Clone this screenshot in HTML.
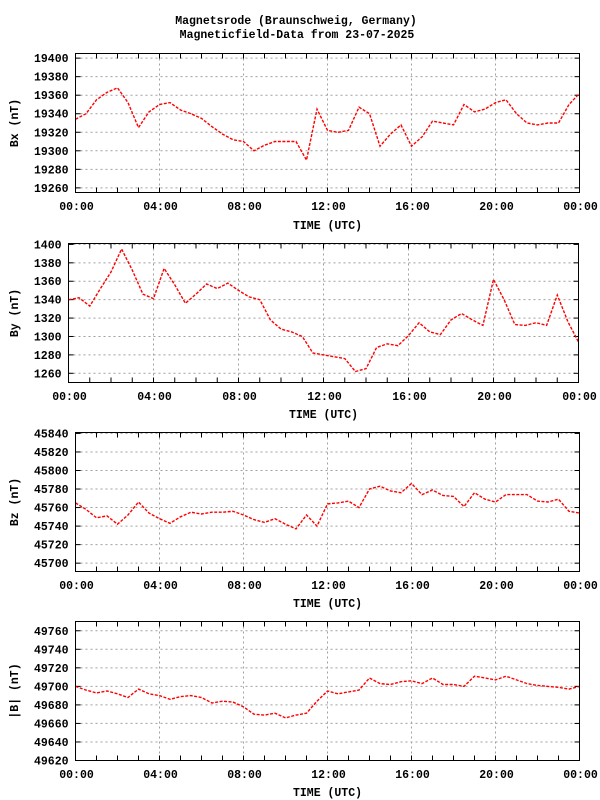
<!DOCTYPE html>
<html><head><meta charset="utf-8"><style>
html,body{margin:0;padding:0;background:#fff;}
svg{display:block;font-family:"Liberation Mono","DejaVu Sans Mono",monospace;font-weight:bold;}
</style></head><body>
<svg id="chart" width="600" height="800" viewBox="0 0 600 800" xmlns="http://www.w3.org/2000/svg">
<text x="296" y="24" font-size="11.5" text-anchor="middle">Magnetsrode (Braunschweig, Germany)</text>
<text x="297" y="38" font-size="11.5" text-anchor="middle">Magneticfield-Data from 23-07-2025</text>
</svg>
<script>
const hours = [0,0.5,1,1.5,2,2.5,3,3.5,4,4.5,5,5.5,6,6.5,7,7.5,8,8.5,9,9.5,10,10.5,11,11.5,12,12.5,13,13.5,14,14.5,15,15.5,16,16.5,17,17.5,18,18.5,19,19.5,20,20.5,21,21.5,22,22.5,23,23.5,24];
const xTickLabels = ["00:00","04:00","08:00","12:00","16:00","20:00","00:00"];
const bxValues = [19334,19340,19355,19363,19368,19352,19325,19342,19350,19352,19344,19340,19335,19326,19318,19312,19310,19300,19306,19310,19310,19310,19290,19345,19322,19320,19322,19347,19340,19305,19318,19328,19305,19315,19332,19330,19328,19350,19342,19345,19352,19355,19340,19330,19328,19330,19330,19350,19362];
const byValues = [1340,1342,1333,1352,1370,1395,1372,1346,1341,1374,1356,1336,1346,1357,1352,1358,1350,1343,1340,1318,1308,1305,1300,1282,1280,1278,1276,1262,1265,1288,1292,1290,1301,1315,1305,1302,1318,1325,1318,1312,1362,1340,1313,1312,1315,1312,1345,1316,1294];
const bzValues = [45765,45758,45749,45751,45742,45752,45766,45754,45748,45743,45750,45755,45753,45755,45755,45756,45752,45747,45744,45748,45742,45737,45752,45740,45764,45765,45767,45760,45780,45783,45778,45776,45786,45774,45779,45773,45772,45761,45776,45769,45766,45774,45774,45774,45767,45766,45769,45756,45754];
const btValues = [49700,49696,49693,49695,49692,49688,49697,49692,49690,49686,49689,49690,49688,49682,49684,49683,49678,49670,49669,49671,49666,49669,49671,49684,49695,49692,49694,49696,49709,49703,49702,49705,49706,49703,49709,49702,49702,49700,49711,49709,49707,49711,49707,49703,49701,49700,49699,49697,49700];
const bxTicks = [19260,19280,19300,19320,19340,19360,19380,19400];
const byTicks = [1260,1280,1300,1320,1340,1360,1380,1400];
const bzTicks = [45700,45720,45740,45760,45780,45800,45820,45840];
const btTicks = [49620,49640,49660,49680,49700,49720,49740,49760];

const NS="http://www.w3.org/2000/svg";
const svg=document.getElementById('chart');
function mk(tag,attrs,parent){const e=document.createElementNS(NS,tag);for(const k in attrs)e.setAttribute(k,attrs[k]);(parent||svg).appendChild(e);return e;}

const panels=[
 {key:'bx',label:'Bx (nT)',vals:bxValues,ticks:bxTicks,l:75.5,r:579.5,t:53.5,b:192.5,min:19255,max:19405,lab:210,time:229},
 {key:'by',label:'By (nT)',vals:byValues,ticks:byTicks,l:68.5,r:578.5,t:243.5,b:382.5,min:1250,max:1401,lab:400,time:418},
 {key:'bz',label:'Bz (nT)',vals:bzValues,ticks:bzTicks,l:75.5,r:579.5,t:432.5,b:571.5,min:45691,max:45841,lab:589,time:607},
 {key:'bt',label:'|B| (nT)',vals:btValues,ticks:btTicks,l:75.5,r:579.5,t:621.5,b:760.5,min:49620,max:49770,lab:778,time:796}
];

panels.forEach(p=>{
 const g=mk('g',{});
 
 
 const xs=h=>p.l+(p.r-p.l)*h/24;
 const ys=v=>p.b-(p.b-p.t)*(v-p.min)/(p.max-p.min);
 p.ticks.forEach(v=>{
  const y=ys(v);
  const gl=mk('line',{x1:p.l,x2:p.r,y1:y,y2:y,stroke:'#a0a0a0','stroke-width':1,'stroke-dasharray':'2 3'},g);
  
  
  mk('line',{x1:p.l,x2:p.l+5,y1:y,y2:y,stroke:'#000'},g);
  mk('line',{x1:p.r-5,x2:p.r,y1:y,y2:y,stroke:'#000'},g);
  const tl=mk('text',{x:p.l-7,y:y+4,'font-size':11.5,'text-anchor':'end'},g);
  tl.textContent=v;
  
  
 });
 for(let h=0;h<=24;h++){
  const x=xs(h);
  if(h%4===0&&h>0&&h<24){
   const gl=mk('line',{x1:x,x2:x,y1:p.t,y2:p.b,stroke:'#a0a0a0','stroke-width':1,'stroke-dasharray':'2 3'},g);
   
   
  }
  mk('line',{x1:x,x2:x,y1:p.b,y2:p.b-5,stroke:'#000'},g);
  mk('line',{x1:x,x2:x,y1:p.t,y2:p.t+5,stroke:'#000'},g);
 }
 xTickLabels.forEach((s,i)=>{
  const tl=mk('text',{x:xs(i*4)+1,y:p.lab,'font-size':11.5,'text-anchor':'middle'},g);
  tl.textContent=s;
  
  
 });
 const tt=mk('text',{x:(p.l+p.r)/2,y:p.time,'font-size':11.5,'text-anchor':'middle'},g);
 tt.textContent='TIME (UTC)';
 
 
 const yc=(p.t+p.b)/2;
 const yt=mk('text',{x:0,y:0,'font-size':11.5,'text-anchor':'middle',transform:`translate(18,${yc}) rotate(-90)`},g);
 yt.textContent=p.label;
 
 
 const pts=p.vals.map((v,i)=>xs(hours[i]).toFixed(1)+','+ys(v).toFixed(1)).join(' ');
 const line=mk('polyline',{points:pts,fill:'none',stroke:'#ff0000','stroke-width':1.4,'stroke-dasharray':'3 1.5'},g);
 
 
 const fr=mk('rect',{x:p.l,y:p.t,width:p.r-p.l,height:p.b-p.t,fill:'none',stroke:'#000','stroke-width':1},g);
 
 
});
</script>
</body></html>
